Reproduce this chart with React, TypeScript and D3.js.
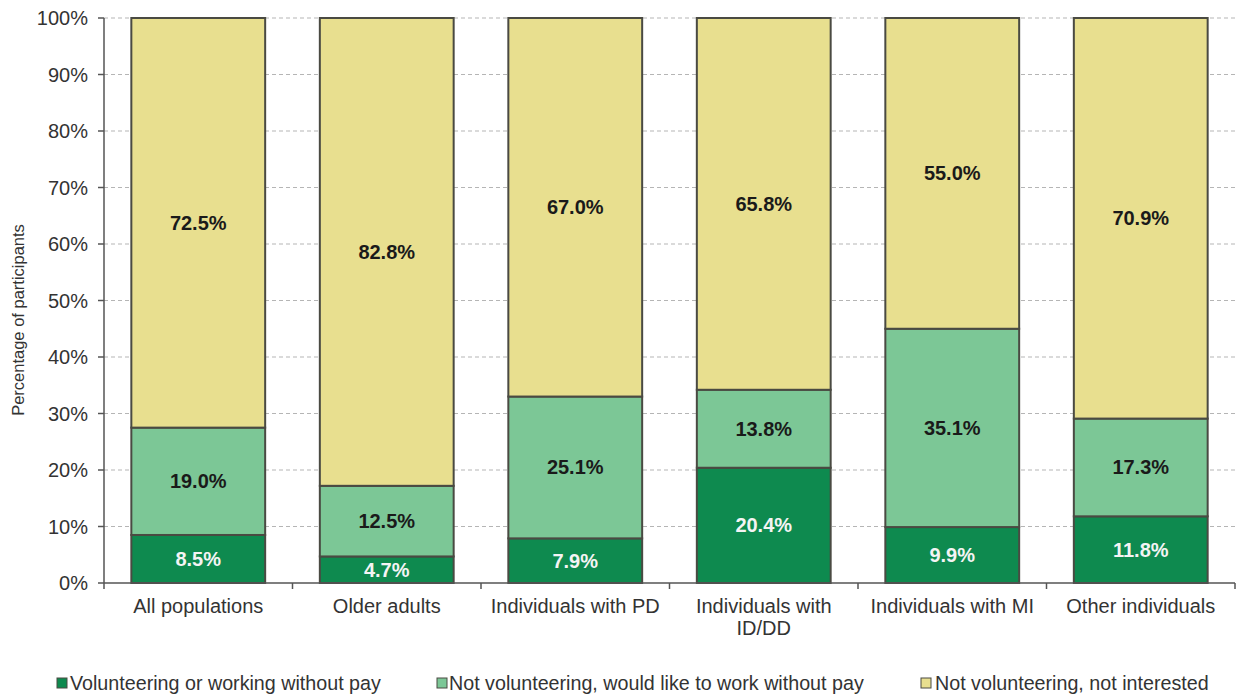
import React from "react";
import * as d3 from "d3";

const categories = [
  ["All populations"],
  ["Older adults"],
  ["Individuals with PD"],
  ["Individuals with", "ID/DD"],
  ["Individuals with MI"],
  ["Other individuals"],
];
const volunteering = [8.5, 4.7, 7.9, 20.4, 9.9, 11.8];
const wouldLike = [19.0, 12.5, 25.1, 13.8, 35.1, 17.3];
const notInterested = [72.5, 82.8, 67.0, 65.8, 55.0, 70.9];
const seriesNames = [
  "Volunteering or working without pay",
  "Not volunteering, would like to work without pay",
  "Not volunteering, not interested",
];
const colors = ["#0e8a4f", "#7cc796", "#e8df8f"];
const textColors = ["#f4f4f4", "#1a1a1a", "#1a1a1a"];
const yTicks = [0, 10, 20, 30, 40, 50, 60, 70, 80, 90, 100];

export default function App() {
  const W = 1238, H = 698;
  const left = 104, right = 1235, top = 18, bottom = 583;
  const x = d3.scaleBand<number>().domain(d3.range(6)).range([left, right]).paddingInner(0.29).paddingOuter(0.145);
  const y = d3.scaleLinear().domain([0, 100]).range([bottom, top]);
  const series = [volunteering, wouldLike, notInterested];
  const font = "Arial, 'Liberation Sans', sans-serif";
  const step = (right - left) / 6;

  const legendSq = [57, 437, 921];
  const legendTx = [70, 449, 935];

  return (
    <svg width={W} height={H} style={{ position: "absolute", left: 0, top: 0 }} fontFamily={font}>
      <rect width={W} height={H} fill="#fff" />
      {yTicks.map((t) => (
        <g key={t}>
          {t > 0 && (
            <line x1={left} x2={right} y1={y(t)} y2={y(t)} stroke="#b5b5b5" strokeWidth={1} strokeDasharray="4,3" />
          )}
          <line x1={left - 6} x2={left} y1={y(t)} y2={y(t)} stroke="#555" strokeWidth={1.5} />
          <text x={left - 16} y={y(t)} dy="0.35em" textAnchor="end" fontSize={20} fill="#333">
            {t}%
          </text>
        </g>
      ))}
      {categories.map((c, i) => {
        let cum = 0;
        return (
          <g key={i}>
            {series.map((s, k) => {
              const y0 = cum;
              cum += s[i];
              const y1 = k === 2 ? 100 : cum;
              return (
                <rect
                  key={k}
                  x={x(i)!}
                  width={x.bandwidth()}
                  y={y(y1)}
                  height={y(y0) - y(y1)}
                  fill={colors[k]}
                  stroke="#4a4a42"
                  strokeWidth={2}
                />
              );
            })}
          </g>
        );
      })}
      {categories.map((c, i) => {
        let cum = 0;
        return (
          <g key={"l" + i}>
            {series.map((s, k) => {
              const y0 = cum;
              cum += s[i];
              const mid = (y0 + cum) / 2;
              return (
                <text
                  key={k}
                  x={x(i)! + x.bandwidth() / 2}
                  y={y(mid)}
                  dy="0.35em"
                  textAnchor="middle"
                  fontSize={20}
                  fontWeight="bold"
                  fill={textColors[k]}
                >
                  {s[i].toFixed(1)}%
                </text>
              );
            })}
          </g>
        );
      })}
      <line x1={left} x2={left} y1={top} y2={bottom} stroke="#555" strokeWidth={1.5} />
      <line x1={left} x2={right} y1={bottom} y2={bottom} stroke="#555" strokeWidth={1.5} />
      {d3.range(7).map((j) => (
        <line key={"t" + j} x1={left + j * step} x2={left + j * step} y1={bottom} y2={bottom + 6} stroke="#555" strokeWidth={1.5} />
      ))}
      {categories.map((c, i) => (
        <text key={"c" + i} x={x(i)! + x.bandwidth() / 2} y={613} textAnchor="middle" fontSize={20} fill="#333">
          {c.map((line, li) => (
            <tspan key={li} x={x(i)! + x.bandwidth() / 2} dy={li === 0 ? 0 : 22}>
              {line}
            </tspan>
          ))}
        </text>
      ))}
      <text transform={`translate(24, 320) rotate(-90)`} textAnchor="middle" fontSize={16.5} fill="#333">
        Percentage of participants
      </text>
      {seriesNames.map((n, k) => (
        <g key={"lg" + k}>
          <rect x={legendSq[k]} y={678} width={10} height={10} fill={colors[k]} stroke="#4a4a42" strokeWidth={1} />
          <text x={legendTx[k]} y={683} dy="0.35em" fontSize={19.7} fill="#333">
            {n}
          </text>
        </g>
      ))}
    </svg>
  );
}
